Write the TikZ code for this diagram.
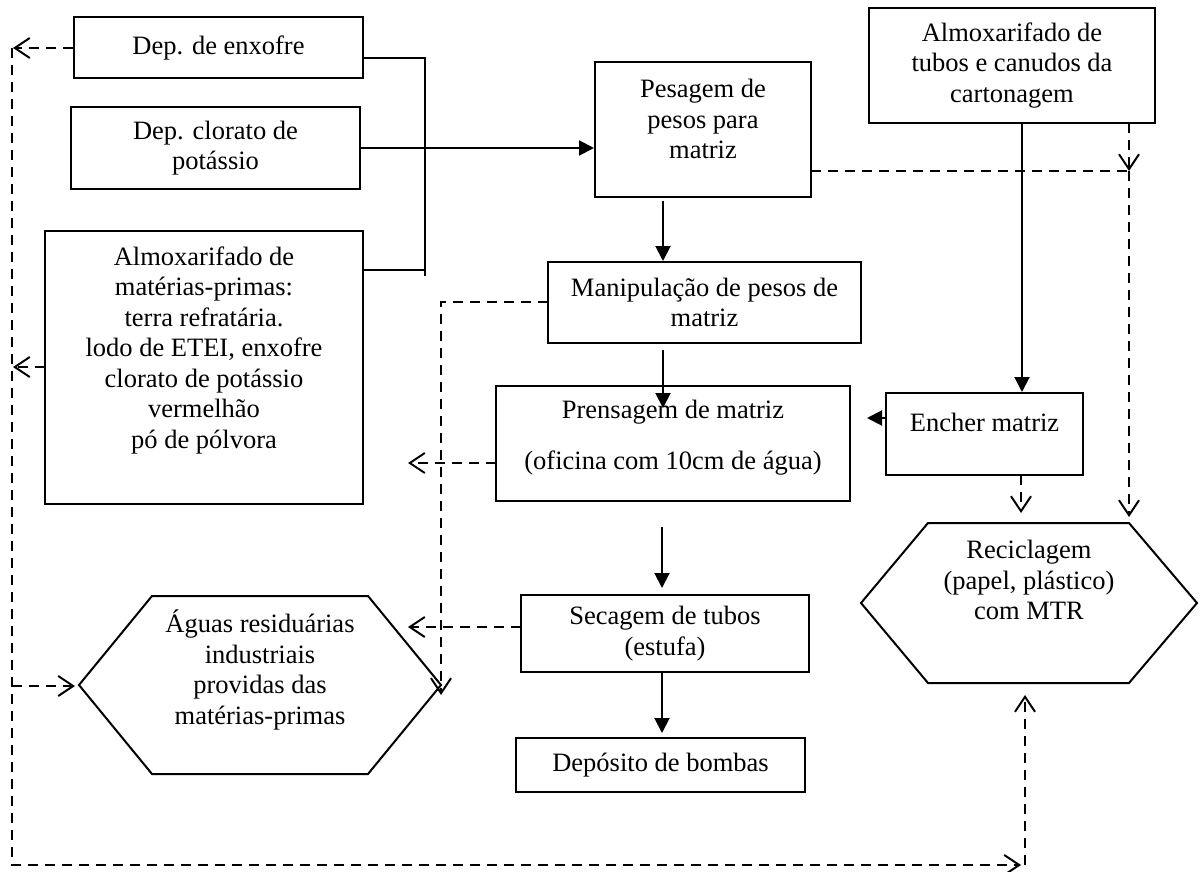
\documentclass[tikz,border=0pt]{standalone}
\usepackage{fontspec}
\setmainfont{Liberation Serif}
\usetikzlibrary{arrows.meta}
\begin{document}
\begin{tikzpicture}[x=1pt,y=-1pt,
  every node/.style={font=\fontsize{26.5}{30.5}\selectfont, align=center, inner sep=0pt},
  box/.style={draw, line width=2pt},
  flow/.style={line width=2pt, -{Triangle[length=15pt,width=15pt]}},
  waste/.style={line width=2pt, dash pattern=on 10pt off 7pt,
                -{Straight Barb[length=15pt,width=20pt]}},
  wline/.style={line width=2pt, dash pattern=on 10pt off 7pt},
  bracket/.style={line width=1.3pt},
  hex/.style={draw, line width=2pt, line join=miter}
]
\useasboundingbox (0,0) rectangle (1203,872);

% ---- storage boxes on the left
\node[box, minimum width=289pt, minimum height=61pt] (enx) at (218.5,47.5) {Dep. de enxofre};
\node[box, minimum width=289pt, minimum height=82pt] (clo) at (215.5,148) {Dep. clorato de\\potássio};
\node[box, minimum width=318pt, minimum height=273pt] (amp) at (204,367.5) {};
\node (ampt) at (204,350) {Almoxarifado de\\matérias-primas:\\terra refratária.\\lodo de ETEI, enxofre\\clorato de potássio\\vermelhão\\pó de pólvora};

% ---- process chain in the middle
\node[box, minimum width=216pt, minimum height=135pt] (pes) at (703,129.5) {};
\node (pest) at (703,119) {Pesagem de\\pesos para\\matriz};
\node[box, minimum width=313pt, minimum height=81pt] (man) at (704.5,302.5) {Manipulação de pesos de\\matriz};
\node[box, minimum width=354pt, minimum height=115pt] (pre) at (673,443.5) {};
\node (pret) at (673,437.5) {Prensagem de matriz\\[20pt](oficina com 10cm de água)};
\node[box, minimum width=288pt, minimum height=77pt] (sec) at (665,633.5) {Secagem de tubos\\(estufa)};
\node[box, minimum width=289pt, minimum height=54pt] (dep) at (660.5,765) {Depósito de bombas};

% ---- right column
\node[box, minimum width=286pt, minimum height=115pt] (tub) at (1012,65.5) {Almoxarifado de\\tubos e canudos da\\cartonagem};
\node[box, minimum width=197pt, minimum height=82pt] (enc) at (984.5,434) {};
\node (enct) at (984.5,422) {Encher matriz};

% ---- destination hexagons
\draw[hex] (79,685) -- (152,596) -- (368,596) -- (441,685) -- (368,774) -- (152,774) -- cycle;
\node (agu) at (260,670) {Águas residuárias\\industriais\\providas das\\matérias-primas};
\draw[hex] (861,603) -- (928,523) -- (1129,523) -- (1197,603) -- (1129,683) -- (928,683) -- cycle;
\node (rec) at (1029,580) {Reciclagem\\(papel, plástico)\\com MTR};

% ---- reference points
\coordinate (agw) at (79,686);
\coordinate (brt) at (425,58);
\coordinate (brb) at (425,276);
\coordinate (bra) at (425,270);
\coordinate (enxb) at (363,58);
\coordinate (ampb) at (363,270);
\coordinate (p1) at (663,201);
\coordinate (p2) at (663,350);
\coordinate (p3) at (663,408);
\coordinate (p4) at (662,527);
\coordinate (p5) at (662,588);
\coordinate (p6) at (662,672);
\coordinate (p7) at (662,733);
\coordinate (t1) at (1022,124);
\coordinate (e1) at (886,418);
\coordinate (e2) at (867,418);
\coordinate (jn) at (1129,171);
\coordinate (pesr) at (811,171);
\coordinate (tubb) at (1129,123);
\coordinate (rect) at (1129,517);
\coordinate (encb) at (1021,475);
\coordinate (recb) at (1021,513);
\coordinate (manl) at (548,302);
\coordinate (mc) at (441,302);
\coordinate (md) at (441,695);
\coordinate (prl) at (496,463);
\coordinate (prt) at (408,463);
\coordinate (scl) at (521,627);
\coordinate (sct) at (408,627);
\coordinate (ltop) at (12,48);
\coordinate (lbot) at (12,865);
\coordinate (bend) at (1021,865);
\coordinate (rup0) at (1025,865);
\coordinate (rup) at (1025,695);
\coordinate (ampl) at (45,367);
\coordinate (ampt2) at (13,367);
\coordinate (lag) at (12,686);

% ---- feed bracket joining the three stores
\draw[bracket] (enxb) -- (brt) -- (brb);
\draw[bracket] (ampb) -- (bra);

% ---- main flow
\draw[flow] (clo.east) -- (pes.west |- clo.east);
\draw[flow] (p1) -- (p1 |- man.north);
\draw[flow] (p2) -- (p3);
\draw[flow] (p4) -- (p5);
\draw[flow] (p6) -- (p7);
\draw[flow] (t1) -- (t1 |- enc.north);
\draw[flow] (e1) -- (e2);

% ---- waste flows
\draw[wline] (pesr) -- (jn);
\draw[waste] (tubb) -- (jn);
\draw[waste] (jn) -- (rect);
\draw[waste] (encb) -- (recb);
\draw[waste] (manl) -- (mc) -- (md);
\draw[waste] (prl) -- (prt);
\draw[waste] (scl) -- (sct);
\draw[waste] (enx.west |- ltop) -- ([xshift=1pt]ltop);
\draw[waste] (ltop) -- (lbot) -- (bend);
\draw[waste] (rup0) -- (rup);
\draw[waste] (ampl) -- (ampt2);
\draw[waste] (lag) -- ([xshift=-4pt]agw);
\end{tikzpicture}
\end{document}
